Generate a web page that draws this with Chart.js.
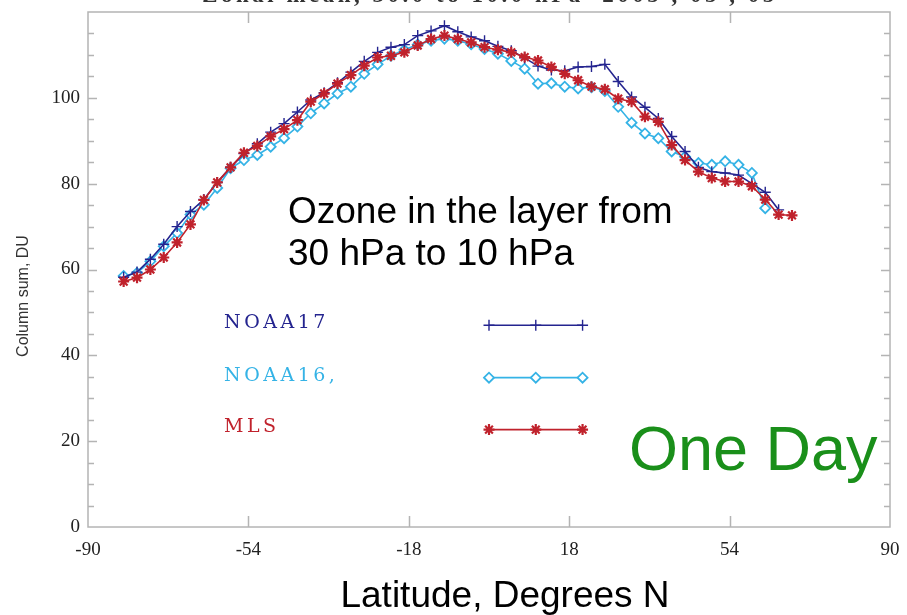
<!DOCTYPE html>
<html><head><meta charset="utf-8">
<script src="https://cdn.jsdelivr.net/npm/chart.js@4/dist/chart.umd.min.js"></script>
<style>html,body{margin:0;padding:0;background:#fff;overflow:hidden}canvas{display:block}</style>
</head><body>
<canvas id="c" width="907" height="615"></canvas>
<script>
// ---- data ----
const latitudes = [-82,-79,-76,-73,-70,-67,-64,-61,-58,-55,-52,-49,-46,-43,-40,-37,-34,-31,-28,-25,-22,-19,-16,-13,-10,-7,-4,-1,2,5,8,11,14,17,20,23,26,29,32,35,38,41,44,47,50,53,56,59,62,65,68];
const noaa17 = [58.2,59.4,62.4,65.9,70.0,73.5,76.3,80.3,83.8,87.0,89.3,92.0,94.0,96.7,99.5,101.2,103.5,106.0,108.5,110.6,111.8,112.4,114.5,115.6,116.8,115.4,114.2,113.3,112.0,111.0,109.3,107.4,106.5,106.3,107.2,107.3,107.8,103.8,100.2,97.8,95.2,91.0,87.5,83.8,82.8,82.5,82.0,80.0,78.0,73.9];
const noaa16 = [58.5,59.2,61.9,65.4,68.5,72.8,75.1,79.0,83.6,85.5,86.7,88.6,90.6,93.3,96.4,98.7,101.0,102.6,105.6,107.8,109.8,111.2,112.4,113.3,113.8,113.3,112.5,111.4,110.3,108.6,106.8,103.3,103.4,102.6,102.2,102.5,101.6,97.9,94.2,91.7,90.6,87.5,86.3,84.8,84.4,85.2,84.4,82.5,74.3];
const mls = [57.2,58.1,60.0,62.8,66.3,70.5,76.2,80.3,83.8,87.2,88.8,91.0,92.7,94.8,99.1,101.0,103.3,105.3,107.5,109.4,109.8,110.6,112.2,113.7,114.5,113.7,112.9,111.8,111.2,110.6,109.5,108.7,107.2,105.6,104.1,102.6,102.0,99.8,99.1,95.6,94.4,89.0,85.5,82.8,81.3,80.5,80.5,79.4,76.3,72.8,72.6];
const xTickValues = [-90,-54,-18,18,54,90];
const yTickLabels = [0,20,40,60,80,100];
const seriesNames = ['NOAA17','NOAA16,','MLS'];
// legend sample strokes (drawn inside the plot, in data units)
const legendSampleLat = [0,10.5,21];
const legendSampleDU = [47.0,34.8,22.7];

const C17 = '#24248f', C16 = '#35b3e6', CMLS = '#c0222c';
const toPts = (vals) => vals.map((v,i)=>({x:latitudes[i], y:v}));
const legendPts = (k) => legendSampleLat.map(x=>({x, y:legendSampleDU[k]}));

const decor = {
  id:'decor',
  beforeDatasetsDraw(chart){
    const {ctx, chartArea:a, scales:{x,y}} = chart;
    ctx.save();
    ctx.strokeStyle = '#b4b4b4'; ctx.lineWidth = 1.5;
    ctx.strokeRect(a.left, a.top, a.right-a.left, a.bottom-a.top);
    ctx.beginPath();
    xTickValues.forEach(v=>{
      if (v<=-90 || v>=90) return;
      const px = Math.round(x.getPixelForValue(v))+0.5;
      ctx.moveTo(px,a.bottom); ctx.lineTo(px,a.bottom-11);
      ctx.moveTo(px,a.top); ctx.lineTo(px,a.top+11);
    });
    for (let v=5; v<y.max; v+=5){
      const py = Math.round(y.getPixelForValue(v))+0.5;
      const L = (v%20===0)?9:6;
      ctx.moveTo(a.left,py); ctx.lineTo(a.left+L,py);
      ctx.moveTo(a.right,py); ctx.lineTo(a.right-L,py);
    }
    ctx.stroke();
    ctx.restore();
  },
  afterDraw(chart){
    const {ctx} = chart;
    ctx.save();
    // clipped title at very top
    ctx.fillStyle = '#333';
    ctx.font = 'bold 23px "Liberation Serif"';
    ctx.textAlign = 'center'; ctx.textBaseline = 'alphabetic';
    ctx.letterSpacing = '3.5px';
    ctx.fillText('Zonal mean, 30.0 to 10.0 hPa  2005 , 05 , 05', 490, 2);
    ctx.letterSpacing = '0px';
    // y axis title
    ctx.save();
    ctx.translate(24, 296); ctx.rotate(-Math.PI/2);
    ctx.fillStyle = '#333'; ctx.font = '16px "Liberation Sans"';
    ctx.textAlign = 'center'; ctx.textBaseline = 'middle';
    ctx.fillText('Column sum, DU', 0, 0);
    ctx.restore();
    // x axis title
    ctx.fillStyle = '#000'; ctx.textAlign = 'center'; ctx.textBaseline = 'alphabetic';
    ctx.font = '37px "Liberation Sans"';
    ctx.fillText('Latitude, Degrees N', 505, 607);
    // annotation
    ctx.textAlign = 'left';
    ctx.fillText('Ozone in the layer from', 288, 223);
    ctx.fillText('30 hPa to 10 hPa', 288, 265);
    // One Day
    ctx.fillStyle = '#1a8f1a';
    ctx.font = '63px "Liberation Sans"';
    ctx.fillText('One Day', 629, 470);
    // legend names
    ctx.font = '19px "DejaVu Serif"';
    ctx.letterSpacing = '3.5px';
    const cols = [C17, C16, CMLS];
    const ys = [328, 381, 432];
    seriesNames.forEach((n,i)=>{ ctx.fillStyle = cols[i]; ctx.fillText(n, 224, ys[i]); });
    ctx.restore();
  }
};

const mk = (label, data, color, style, radius, bw, bg, order) => ({
  label, data, borderColor: color, backgroundColor: bg, pointBorderColor: color,
  pointBackgroundColor: bg, pointStyle: style, pointRadius: radius,
  pointBorderWidth: bw, borderWidth: 1.6, tension: 0, order
});

const zeroPad = (s) => { s.paddingTop = 0; s.paddingBottom = 0; s.paddingLeft = 0; s.paddingRight = 0; };

new Chart(document.getElementById('c'), {
  type: 'line',
  data: { datasets: [
    mk('MLS', toPts(mls), CMLS, 'star', 5.5, 2.2, CMLS, 0),
    mk('NOAA17', toPts(noaa17), C17, 'cross', 5.5, 1.4, C17, 1),
    mk('NOAA16', toPts(noaa16), C16, 'rectRot', 5, 1.8, '#ffffff', 2),
    mk('MLS legend', legendPts(2), CMLS, 'star', 5.5, 2.2, CMLS, 0),
    mk('NOAA17 legend', legendPts(0), C17, 'cross', 5.5, 1.4, C17, 1),
    mk('NOAA16 legend', legendPts(1), C16, 'rectRot', 5, 1.8, '#ffffff', 2)
  ]},
  options: {
    responsive: false, animation: false, devicePixelRatio: 1,
    layout: { padding: { top: 12, right: 17, left: 0, bottom: 0 } },
    plugins: { legend: { display: false }, tooltip: { enabled: false } },
    scales: {
      x: {
        type: 'linear', min: -90, max: 90,
        afterFit(s){ s.height = 88; zeroPad(s); },
        afterBuildTicks(s){ s.ticks = xTickValues.map(v=>({value:v})); },
        grid: { display: false, drawTicks: false },
        border: { display: false },
        ticks: { padding: 12, color: '#222', font: { family: '"Liberation Serif"', size: 19 } },
        title: { display: false }
      },
      y: {
        min: 0, max: 120,
        afterFit(s){ s.width = 88; zeroPad(s); },
        afterBuildTicks(s){ s.ticks = yTickLabels.map(v=>({value:v})); },
        grid: { display: false, drawTicks: false },
        border: { display: false },
        ticks: { padding: 8, color: '#222', font: { family: '"Liberation Serif"', size: 19 } }
      }
    }
  },
  plugins: [decor]
});
</script>
</body></html>
